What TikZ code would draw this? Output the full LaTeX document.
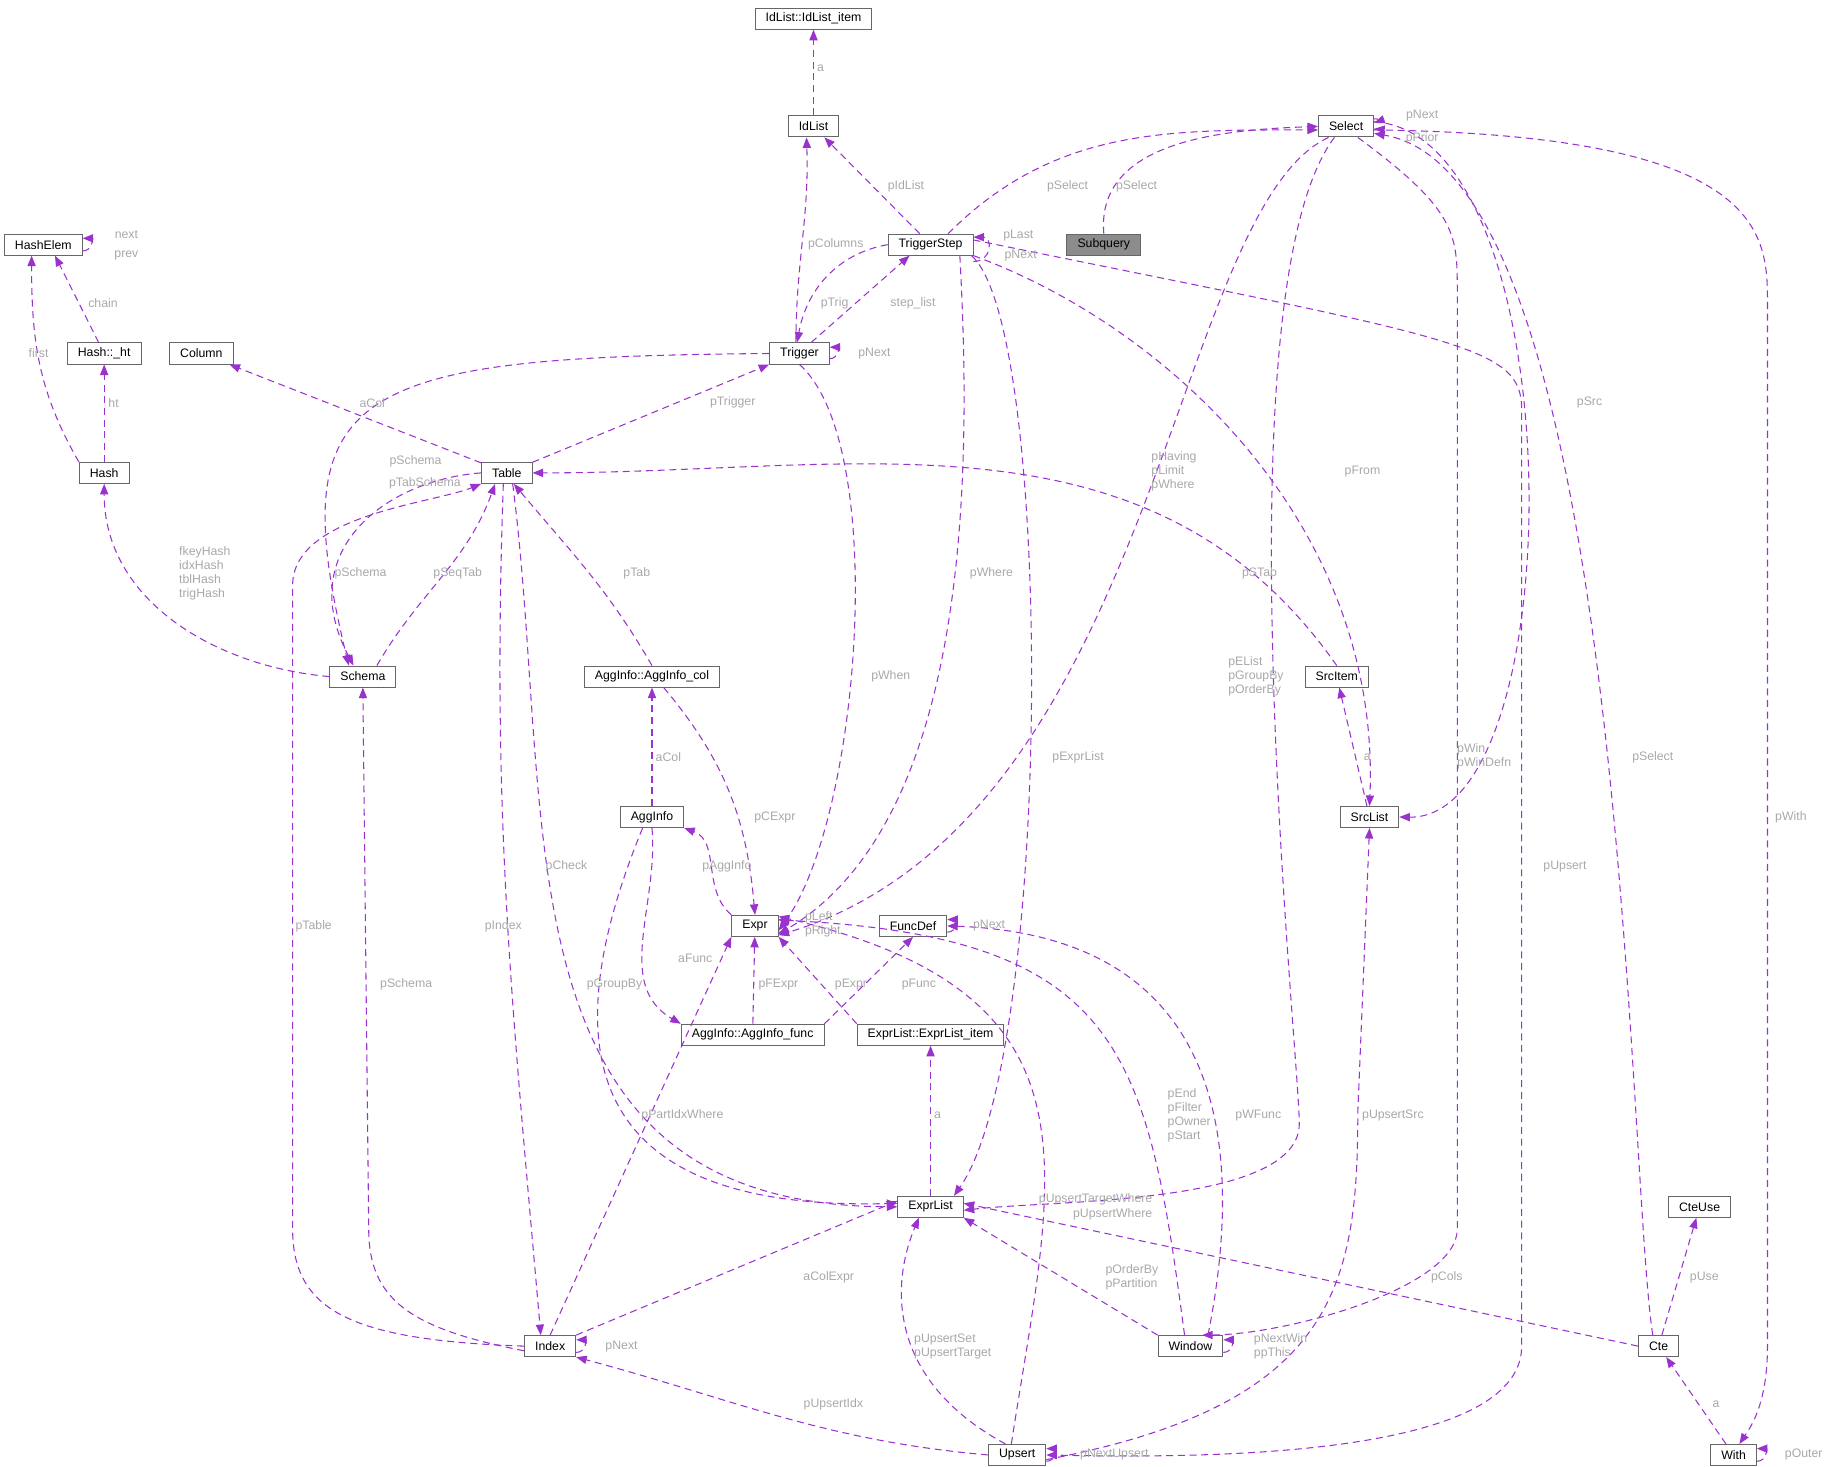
\documentclass[tikz,border=0pt]{standalone}
\usepackage{fontspec}
\setmainfont{Liberation Sans}
\usetikzlibrary{arrows.meta}
\definecolor{relcol}{HTML}{9A32CD}
\definecolor{lblcol}{HTML}{A8A8A8}
\begin{document}
\begin{tikzpicture}[x=1pt,y=-1pt,
    cls/.style={draw=black!60, line width=0.8pt, fill=white, inner xsep=9pt, inner ysep=2pt, minimum height=18pt, font=\fontsize{10.5}{12}\selectfont},
    rel/.style={draw=relcol, line width=0.9pt, dash pattern=on 6pt off 4pt, -{Triangle[length=9pt,width=7pt]}},
    lbl/.style={text=lblcol, font=\fontsize{10.5}{12}\selectfont, inner sep=1pt}]
  \useasboundingbox (0,0) rectangle (1560,1253);
  % classes
  \node[cls] (item) at (695,16) {IdList::IdList\_item};
  \node[cls] (idlist) at (695,108) {IdList};
  \node[cls] (select) at (1150,108) {Select};
  \node[cls] (hashelem) at (37,209) {HashElem};
  \node[cls] (tstep) at (795,209) {TriggerStep};
  \node[cls, fill=black!45] (subq) at (943,209) {Subquery};
  \node[cls] (ht) at (89,302) {Hash::\_ht};
  \node[cls] (column) at (172,302) {Column};
  \node[cls] (trigger) at (683,302) {Trigger};
  \node[cls] (hash) at (89,404) {Hash};
  \node[cls] (table) at (433,404) {Table};
  \node[cls] (schema) at (310,578) {Schema};
  \node[cls] (aggcol) at (557,578) {AggInfo::AggInfo\_col};
  \node[cls] (srcitem) at (1142,578) {SrcItem};
  \node[cls] (agginfo) at (557,698) {AggInfo};
  \node[cls] (srclist) at (1170,698) {SrcList};
  \node[cls] (expr) at (645,791) {Expr};
  \node[cls] (funcdef) at (780,791) {FuncDef};
  \node[cls] (aggfunc) at (643,884) {AggInfo::AggInfo\_func};
  \node[cls] (elitem) at (795,884) {ExprList::ExprList\_item};
  \node[cls] (exprlist) at (795,1031) {ExprList};
  \node[cls] (cteuse) at (1452,1031) {CteUse};
  \node[cls] (index) at (470,1150) {Index};
  \node[cls] (window) at (1017,1150) {Window};
  \node[cls] (cte) at (1417,1150) {Cte};
  \node[cls] (upsert) at (869,1243) {Upsert};
  \node[cls] (with) at (1481,1243) {With};

  % relations
  \draw[rel] (idlist) -- (item);
  \draw[rel] (tstep) -- (idlist);
  \draw[rel] ([xshift=-3pt]trigger.north) to[out=90,in=-88] ([xshift=-6pt]idlist.south);
  \draw[rel] (tstep.west) to[out=190,in=80] ([xshift=-2pt]trigger.north);
  \draw[rel] ([xshift=10pt]trigger.north) -- ([xshift=-18pt]tstep.south);
  \draw[rel] ([yshift=-5pt]tstep.south east) to[out=0,in=0,looseness=2] ([yshift=-3pt]tstep.north east);
  \draw[rel] ([xshift=15pt]tstep.north) to[out=45,in=180] ([yshift=-3pt]select.west);
  \draw[rel] (subq.north) to[out=95,in=182] (select.west);
  \draw[rel] ([yshift=-3pt]select.north east) to[out=10,in=20,looseness=3] ([yshift=3pt]select.east);
  \draw[rel] ([yshift=-3pt]select.east) to[out=0,in=-5,looseness=3] ([yshift=-2pt]select.east);
  \draw[rel] ([yshift=4pt]hashelem.south east) to[out=0,in=0,looseness=2] ([yshift=-4pt]hashelem.north east);
  \draw[rel] (ht) -- ([xshift=10pt]hashelem.south);
  \draw[rel] (hash.north west) to[out=120,in=-90] ([xshift=-10pt]hashelem.south);
  \draw[rel] (hash) -- (ht);
  \draw[rel] (schema.west) to[out=175,in=-90] (hash.south);
  \draw[rel] (table) -- (column);
  \draw[rel] (table) -- (trigger.south west);
  \draw[rel] ([yshift=5pt]trigger.south east) to[out=0,in=0,looseness=2] ([yshift=-4pt]trigger.north east);
  \draw[rel] (trigger.west) .. controls (300,305) and (240,330) .. ([xshift=-12pt]schema.north);
  \draw[rel] (table.west) .. controls (330,410) and (250,470) .. ([xshift=-8pt]schema.north);
  \draw[rel] ([xshift=12pt]schema.north) to[out=60,in=-110] ([xshift=-10pt]table.south);
  \draw[rel] (aggcol.north) to[out=120,in=-50] ([xshift=6pt]table.south);
  \draw[rel] (srcitem.north) to[out=125,in=0] (table.east);
  \draw[rel] ([xshift=-3pt]table.south) to[out=-92,in=95] ([xshift=-8pt]index.north);
  \draw[rel] (index.west) .. controls (300,1145) and (250,1120) .. (250,1050) -- (250,500) .. controls (250,440) and (370,430) .. (table.south west);
  \draw[rel] ([xshift=5pt]table.south) .. controls (475,700) and (420,1030) .. (exprlist.west);
  \draw[rel] ([yshift=-4pt]index.west) .. controls (350,1135) and (315,1110) .. (315,1050) -- (schema.south);
  \draw[rel] (trigger.south) .. controls (760,380) and (735,700) .. ([yshift=-4pt]expr.east);
  \draw[rel] ([xshift=25pt]tstep.south) .. controls (830,400) and (830,700) .. ([yshift=-7pt]expr.east);
  \draw[rel] ([xshift=35pt]tstep.south) .. controls (900,280) and (900,900) .. ([xshift=20pt]exprlist.north);
  \draw[rel] (tstep.south east) .. controls (1000,280) and (1180,450) .. (srclist.north);
  \draw[rel] ([yshift=4pt]tstep.east) .. controls (1250,290) and (1300,295) .. (1300,350) -- (1300,1150) .. controls (1300,1250) and (1000,1245) .. (upsert.east);
  \draw[rel] ([xshift=-15pt]select.south) .. controls (1000,180) and (990,700) .. ([yshift=-8pt]expr.east);
  \draw[rel] ([xshift=-10pt]select.south) .. controls (1040,250) and (1110,900) .. (1110,960) .. controls (1110,1030) and (900,1025) .. ([yshift=-3pt]exprlist.east);
  \draw[rel] ([yshift=4pt]select.east) .. controls (1345,115) and (1345,700) .. (srclist.east);
  \draw[rel] ([xshift=10pt]select.south) .. controls (1245,180) and (1245,200) .. (1245,250) -- (1245,1050) .. controls (1245,1100) and (1100,1140) .. ([xshift=10pt]window.north);
  \draw[rel] ([yshift=-3pt]select.east) .. controls (1510,115) and (1510,200) .. (1510,260) -- (1510,1150) .. controls (1510,1200) and (1495,1220) .. ([xshift=5pt]with.north);
  \draw[rel] ([xshift=-5pt]cte.north) .. controls (1390,1000) and (1390,150) .. ([yshift=-6pt]select.east);
  \draw[rel] (srclist) -- (srcitem);
  \draw[rel] (agginfo) -- (aggcol);
  \draw[rel] ([xshift=10pt]aggcol.south) to[out=-50,in=95] (expr.north);
  \draw[rel] (expr.north west) to[out=140,in=-20] (agginfo.south east);
  \draw[rel] ([yshift=4pt]expr.south east) to[out=0,in=0,looseness=2] ([yshift=-4pt]expr.north east);
  \draw[rel] (agginfo.south) to[out=-85,in=150] (aggfunc.north west);
  \draw[rel] ([xshift=-8pt]agginfo.south) .. controls (470,900) and (500,1035) .. ([yshift=3pt]exprlist.west);
  \draw[rel] (aggfunc) -- (expr);
  \draw[rel] (aggfunc.north east) -- (funcdef.south);
  \draw[rel] (elitem.north west) -- (expr.south east);
  \draw[rel] ([yshift=4pt]funcdef.south east) to[out=0,in=0,looseness=2] ([yshift=-4pt]funcdef.north east);
  \draw[rel] (exprlist) -- (elitem);
  \draw[rel] (index.north) -- (expr.south west);
  \draw[rel] (index.north east) -- ([yshift=5pt]exprlist.west);
  \draw[rel] ([yshift=4pt]index.south east) to[out=0,in=0,looseness=2] ([yshift=-4pt]index.north east);
  \draw[rel] ([xshift=-5pt]window.north) .. controls (980,900) and (960,800) .. ([yshift=5pt]expr.east);
  \draw[rel] ([xshift=15pt]window.north) .. controls (1060,1000) and (1060,800) .. (funcdef.east);
  \draw[rel] (window.north west) -- (exprlist.south east);
  \draw[rel] ([yshift=4pt]window.south east) to[out=0,in=0,looseness=2] ([yshift=-4pt]window.north east);
  \draw[rel] ([xshift=-5pt]upsert.north) .. controls (900,1000) and (950,850) .. ([yshift=8pt]expr.east);
  \draw[rel] ([xshift=-10pt]upsert.north) .. controls (760,1180) and (760,1100) .. ([xshift=-10pt]exprlist.south);
  \draw[rel] (upsert.west) to[out=175,in=-15] (index.south east);
  \draw[rel] ([yshift=-4pt]upsert.east) .. controls (1140,1200) and (1160,1100) .. (1160,950) -- (srclist.south);
  \draw[rel] ([yshift=4pt]upsert.south east) to[out=0,in=0,looseness=2] ([yshift=-4pt]upsert.north east);
  \draw[rel] (cte.west) -- ([yshift=3pt]exprlist.east);
  \draw[rel] (cte) -- (cteuse);
  \draw[rel] (with) -- (cte);
  \draw[rel] ([yshift=4pt]with.south east) to[out=0,in=0,looseness=2] ([yshift=-4pt]with.north east);

  % member labels
  \node[lbl] (l1) at (701,58) {a};
  \node[lbl] (l2) at (774,159) {pIdList};
  \node[lbl] (l3) at (912,159) {pSelect};
  \node[lbl] (l4) at (971,159) {pSelect};
  \node[lbl] (l5) at (1215,99) {pNext};
  \node[lbl] (l6) at (1215,118) {pPrior};
  \node[lbl] (l7) at (108,200) {next};
  \node[lbl] (l8) at (108,218) {prev};
  \node[lbl] (l9) at (88,259) {chain};
  \node[lbl] (l10) at (33,302) {first};
  \node[lbl] (l11) at (97,344) {ht};
  \node[lbl] (l12) at (714,209) {pColumns};
  \node[lbl] (l13) at (870,201) {pLast};
  \node[lbl] (l14) at (872,218) {pNext};
  \node[lbl] (l15) at (713,259) {pTrig};
  \node[lbl] (l16) at (780,259) {step\_list};
  \node[lbl] (l17) at (747,302) {pNext};
  \node[lbl] (l18) at (318,344) {aCol};
  \node[lbl] (l19) at (626,344) {pTrigger};
  \node[lbl] (l20) at (355,394) {pSchema};
  \node[lbl] (l21) at (363,413) {pTabSchema};
  \node[lbl, align=left] (l22) at (175,490) {fkeyHash\\idxHash\\tblHash\\trigHash};
  \node[lbl] (l23) at (308,490) {pSchema};
  \node[lbl] (l24) at (391,490) {pSeqTab};
  \node[lbl] (l25) at (544,490) {pTab};
  \node[lbl] (l26) at (847,490) {pWhere};
  \node[lbl] (l27) at (1076,490) {pSTab};
  \node[lbl, align=left] (l28) at (1003,403) {pHaving\\pLimit\\pWhere};
  \node[lbl] (l29) at (1164,403) {pFrom};
  \node[lbl] (l30) at (1358,344) {pSrc};
  \node[lbl, align=left] (l31) at (1073,578) {pEList\\pGroupBy\\pOrderBy};
  \node[lbl] (l32) at (761,578) {pWhen};
  \node[lbl] (l33) at (921,647) {pExprList};
  \node[lbl] (l34) at (1168,647) {a};
  \node[lbl, align=left] (l35) at (1268,646) {pWin\\pWinDefn};
  \node[lbl] (l36) at (1412,647) {pSelect};
  \node[lbl] (l37) at (1530,698) {pWith};
  \node[lbl] (l38) at (571,647) {aCol};
  \node[lbl] (l39) at (662,698) {pCExpr};
  \node[lbl] (l40) at (484,740) {pCheck};
  \node[lbl] (l41) at (621,740) {pAggInfo};
  \node[lbl] (l42) at (1337,740) {pUpsert};
  \node[lbl] (l43) at (268,791) {pTable};
  \node[lbl] (l44) at (430,791) {pIndex};
  \node[lbl, align=left] (l45) at (703,790) {pLeft\\pRight};
  \node[lbl] (l46) at (845,791) {pNext};
  \node[lbl] (l47) at (594,819) {aFunc};
  \node[lbl] (l48) at (347,841) {pSchema};
  \node[lbl] (l49) at (525,841) {pGroupBy};
  \node[lbl] (l50) at (665,841) {pFExpr};
  \node[lbl] (l51) at (727,841) {pExpr};
  \node[lbl] (l52) at (785,841) {pFunc};
  \node[lbl] (l53) at (583,953) {pPartIdxWhere};
  \node[lbl] (l54) at (801,953) {a};
  \node[lbl, align=left] (l55) at (1016,953) {pEnd\\pFilter\\pOwner\\pStart};
  \node[lbl] (l56) at (1075,953) {pWFunc};
  \node[lbl] (l57) at (1190,953) {pUpsertSrc};
  \node[lbl, align=right] (l58) at (936,1031) {pUpsertTargetWhere\\pUpsertWhere};
  \node[lbl, align=left] (l59) at (967,1091) {pOrderBy\\pPartition};
  \node[lbl] (l60) at (708,1091) {aColExpr};
  \node[lbl] (l61) at (1236,1091) {pCols};
  \node[lbl] (l62) at (1456,1091) {pUse};
  \node[lbl, align=left] (l63) at (814,1150) {pUpsertSet\\pUpsertTarget};
  \node[lbl, align=left] (l64) at (1094,1150) {pNextWin\\ppThis};
  \node[lbl] (l65) at (531,1150) {pNext};
  \node[lbl] (l66) at (712,1200) {pUpsertIdx};
  \node[lbl] (l67) at (1466,1200) {a};
  \node[lbl] (l68) at (952,1243) {pNextUpsert};
  \node[lbl] (l69) at (1541,1243) {pOuter};
\end{tikzpicture}
\end{document}
